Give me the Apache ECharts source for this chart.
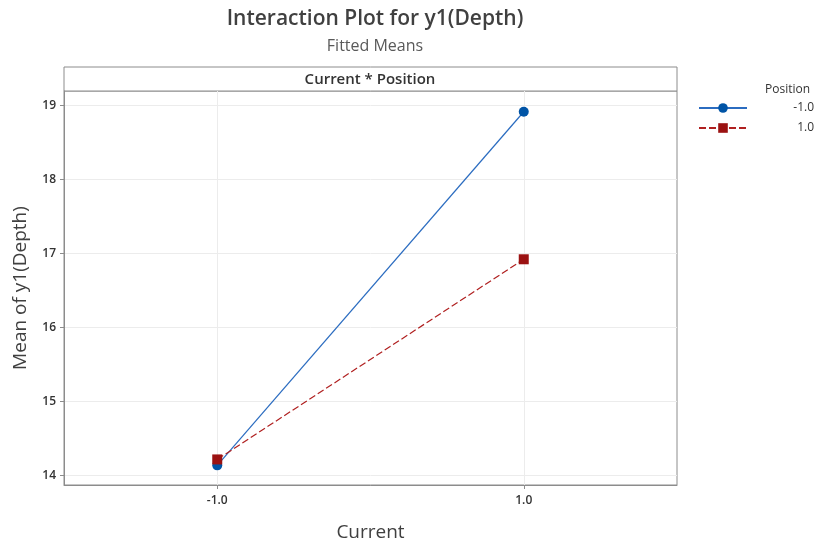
<!DOCTYPE html>
<html><head><meta charset="utf-8">
<script src="https://cdn.jsdelivr.net/npm/echarts@6/dist/echarts.min.js"></script>
<style>html,body{margin:0;padding:0;background:#fff}#c{width:820px;height:548px}</style>
</head><body><div id="c"></div>
<script>
const currentLevels = [-1.0, 1.0];
const positionNames = ['-1.0', '1.0'];
const meansPosNeg = [14.14, 18.91];
const meansPosPos = [14.22, 16.92];
const yTicks = [14, 15, 16, 17, 18, 19];

const font = '"Open Sans", "Noto Sans", sans-serif';
const chart = echarts.init(document.getElementById('c'));
chart.setOption({
  animation: false,
  title: [
    {text: 'Interaction Plot for y1(Depth)', left: 370, top: 4, textAlign: 'center',
     textStyle: {fontFamily: font, fontSize: 21, fontWeight: 600, color: '#404040'}},
    {text: 'Fitted Means', left: 370, top: 33, textAlign: 'center',
     textStyle: {fontFamily: font, fontSize: 16, fontWeight: 'normal', color: '#595959'}},
    {text: 'Position', left: 760, top: 79,
     textStyle: {fontFamily: font, fontSize: 12, fontWeight: 'normal', color: '#333'}}
  ],
  grid: {left: 64, right: 143, top: 91, bottom: 63, show: true, borderColor: '#8c8c8c', borderWidth: 1},
  legend: {
    orient: 'vertical', left: 693, top: 97, itemWidth: 48, itemHeight: 12, itemGap: 8,
    data: positionNames,
    formatter: n => '{a|' + n + '}',
    textStyle: {fontFamily: font, fontSize: 12, color: '#333', rich: {a: {width: 62, align: 'right', fontFamily: font, fontSize: 12, color: '#333'}}}
  },
  graphic: [
    {type: 'rect', shape: {x: 64, y: 67, width: 613, height: 24}, style: {fill: '#fff', stroke: '#8c8c8c', lineWidth: 1}},
    {type: 'text', x: 370, y: 80, style: {text: 'Current * Position', fontFamily: font, fontSize: 15, fontWeight: 600, fill: '#333', align: 'center', verticalAlign: 'middle'}}
  ],
  xAxis: {
    type: 'value', min: -2, max: 2,
    name: 'Current', nameLocation: 'middle', nameGap: 38,
    nameTextStyle: {fontFamily: font, fontSize: 19, color: '#404040'},
    axisLine: {show: true, onZero: false, lineStyle: {color: '#8c8c8c'}},
    axisTick: {show: true, length: 4, lineStyle: {color: '#8c8c8c'}, customValues: currentLevels},
    axisLabel: {customValues: currentLevels, formatter: v => v.toFixed(1), fontFamily: font, fontSize: 12, fontWeight: 600, color: '#333', margin: 10},
    splitLine: {show: true, lineStyle: {color: '#ececec'}}
  },
  yAxis: {
    type: 'value', min: 13.875, max: 19.19,
    name: 'Mean of y1(Depth)', nameLocation: 'middle', nameGap: 34,
    nameTextStyle: {fontFamily: font, fontSize: 19, color: '#404040'},
    axisLine: {show: true, onZero: false, lineStyle: {color: '#8c8c8c'}},
    axisTick: {show: true, length: 4, lineStyle: {color: '#8c8c8c'}, customValues: yTicks},
    axisLabel: {customValues: yTicks, fontFamily: font, fontSize: 12, fontWeight: 600, color: '#333', margin: 8},
    splitLine: {show: true, lineStyle: {color: '#ececec'}}
  },
  series: [
    {name: positionNames[0], type: 'line', data: currentLevels.map((x, i) => [x, meansPosNeg[i]]),
     symbol: 'circle', symbolSize: 10, itemStyle: {color: '#0054a6'},
     lineStyle: {color: '#2b6cc0', width: 1.2}, z: 3},
    {name: positionNames[1], type: 'line', data: currentLevels.map((x, i) => [x, meansPosPos[i]]),
     symbol: 'rect', symbolSize: 10, itemStyle: {color: '#9b1212'},
     lineStyle: {color: '#b02020', width: 1.2, type: [7, 3]}, z: 4}
  ]
});
</script></body></html>
